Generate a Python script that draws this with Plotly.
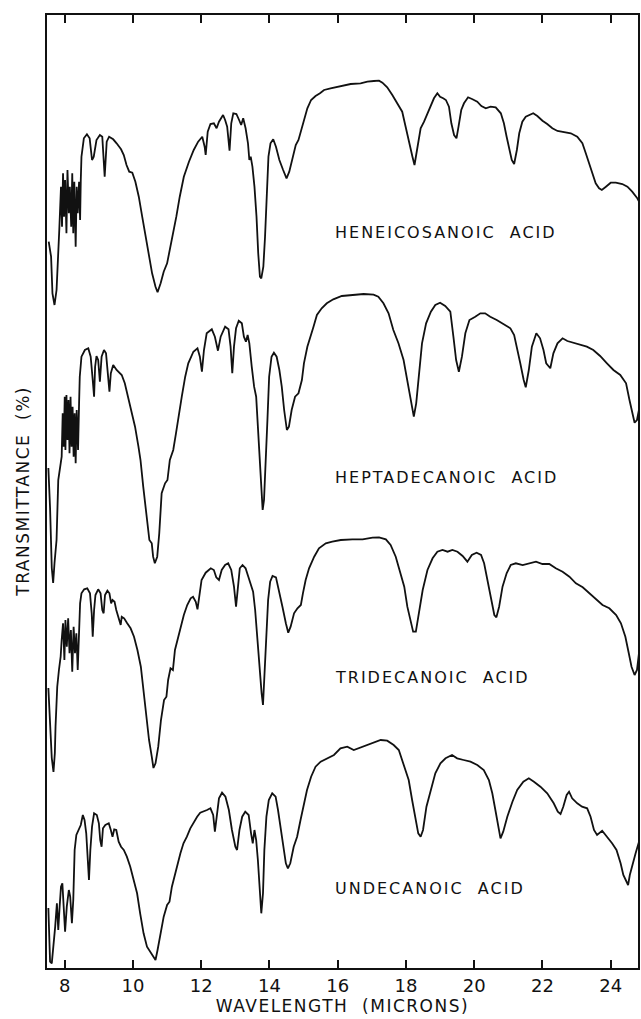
import plotly.graph_objects as go

# ---- data (wavelength in microns, transmittance in stacked chart units) ----
names = ["HENEICOSANOIC  ACID", "HEPTADECANOIC  ACID", "TRIDECANOIC  ACID", "UNDECANOIC  ACID"]
label_y = [73.6, 49.1, 29.1, 8.0]
label_x = 15.86
xticks = [8, 10, 12, 14, 16, 18, 20, 22, 24]

w1 = [7.53, 7.60, 7.64, 7.70, 7.76, 7.80, 7.84, 7.89, 7.92, 7.95, 7.98, 8.01, 8.05, 8.08, 8.12, 8.15, 8.19, 8.22,
      8.25, 8.28, 8.32, 8.35, 8.38, 8.42, 8.45, 8.47, 8.49, 8.56, 8.65, 8.73, 8.80, 8.85, 8.93, 9.03, 9.10, 9.17,
      9.23, 9.30, 9.42, 9.52, 9.59, 9.65, 9.73, 9.81, 9.89, 9.98, 10.07, 10.17, 10.27, 10.37, 10.46, 10.56, 10.66,
      10.72, 10.81, 10.90, 11.00, 11.08, 11.18, 11.27, 11.37, 11.49, 11.64, 11.78, 11.91, 12.03, 12.10, 12.13,
      12.19, 12.27, 12.37, 12.45, 12.52, 12.64, 12.70, 12.76, 12.83, 12.88, 12.94, 13.03, 13.11, 13.17, 13.23,
      13.30, 13.37, 13.41, 13.45, 13.50, 13.56, 13.62, 13.67, 13.72, 13.76, 13.82, 13.87, 13.92, 13.97, 14.03,
      14.11, 14.19, 14.29, 14.40, 14.50, 14.58, 14.68, 14.77, 14.85, 14.93, 15.01, 15.11, 15.22, 15.35, 15.48,
      15.60, 15.79, 16.08, 16.38, 16.67, 16.87, 17.06, 17.21, 17.31, 17.45, 17.60, 17.75, 17.89, 17.99, 18.09,
      18.19, 18.25, 18.33, 18.43, 18.53, 18.67, 18.82, 18.92, 19.00, 19.09, 19.17, 19.26, 19.33, 19.41, 19.48,
      19.54, 19.62, 19.70, 19.82, 19.95, 20.09, 20.21, 20.34, 20.48, 20.63, 20.78, 20.87, 20.95, 21.03, 21.10,
      21.17, 21.25, 21.32, 21.41, 21.51, 21.61, 21.73, 21.85, 22.00, 22.14, 22.29, 22.44, 22.63, 22.83, 23.02,
      23.17, 23.27, 23.37, 23.46, 23.56, 23.66, 23.74, 23.86, 24.00, 24.15, 24.34, 24.49, 24.63, 24.78, 24.88]
t1 = [72.63, 71.13, 67.47, 66.3, 67.8, 71.8, 73.8, 78.13, 74.13, 79.47, 75.13, 78.8, 73.47, 79.8, 75.47, 78.13,
      74.13, 79.47, 73.47, 78.63, 72.13, 78.13, 75.47, 78.63, 74.8, 78.8, 81.13, 82.97, 83.37, 82.97, 80.8, 81.13,
      82.8, 83.3, 83.13, 79.13, 82.63, 83.13, 82.87, 82.47, 82.13, 81.87, 81.3, 80.3, 79.63, 79.53, 78.63, 77.13,
      75.13, 73.13, 71.47, 69.47, 68.13, 67.57, 68.47, 69.63, 70.47, 71.8, 73.47, 75.13, 77.13, 79.13, 80.63,
      81.8, 82.63, 83.13, 82.13, 81.3, 83.63, 84.4, 84.47, 83.97, 84.63, 85.3, 84.8, 84.13, 81.73, 84.47, 85.47,
      85.4, 84.8, 84.3, 84.97, 83.97, 82.47, 80.8, 81.13, 80.13, 78.13, 75.13, 71.47, 69.13, 68.97, 70.13, 73.13,
      77.47, 81.13, 82.47, 82.87, 82.13, 80.8, 79.8, 78.97, 79.63, 81.13, 82.3, 82.8, 83.8, 84.97, 85.97, 86.8,
      87.2, 87.47, 87.8, 87.97, 88.2, 88.4, 88.47, 88.63, 88.7, 88.73, 88.53, 88.07, 87.3, 86.47, 85.63, 84.13,
      82.47, 81.13, 80.3, 81.8, 83.97, 84.63, 85.8, 86.97, 87.47, 87.13, 86.97, 86.8, 86.13, 84.47, 83.3, 82.97,
      84.13, 85.8, 86.47, 87.07, 86.87, 86.63, 86.2, 85.97, 86.13, 86.07, 85.47, 84.47, 83.13, 81.8, 80.8, 80.4,
      81.8, 83.47, 84.63, 85.13, 85.3, 85.47, 85.2, 84.73, 84.4, 83.97, 83.7, 83.6, 83.47, 83.13, 82.47, 81.47,
      80.47, 79.47, 78.47, 77.97, 77.8, 78.13, 78.53, 78.53, 78.4, 78.13, 77.63, 76.97, 76.3]

w2 = [7.52, 7.57, 7.62, 7.66, 7.70, 7.76, 7.81, 7.86, 7.91, 7.94, 7.97, 8.00, 8.02, 8.05, 8.08, 8.11, 8.14, 8.17,
      8.20, 8.23, 8.26, 8.29, 8.32, 8.35, 8.39, 8.42, 8.44, 8.49, 8.59, 8.69, 8.76, 8.82, 8.86, 8.89, 8.93, 8.98,
      9.03, 9.08, 9.15, 9.21, 9.26, 9.31, 9.35, 9.42, 9.52, 9.67, 9.76, 9.86, 9.96, 10.06, 10.16, 10.22, 10.30,
      10.40, 10.48, 10.55, 10.59, 10.64, 10.71, 10.77, 10.84, 10.94, 11.01, 11.08, 11.18, 11.26, 11.33, 11.43,
      11.53, 11.62, 11.77, 11.89, 11.96, 12.02, 12.08, 12.16, 12.31, 12.40, 12.49, 12.57, 12.70, 12.80, 12.86,
      12.91, 12.96, 13.02, 13.10, 13.19, 13.25, 13.31, 13.36, 13.41, 13.48, 13.55, 13.61, 13.65, 13.70, 13.75,
      13.80, 13.84, 13.89, 13.94, 13.99, 14.06, 14.13, 14.21, 14.29, 14.36, 14.43, 14.51, 14.57, 14.65, 14.75,
      14.85, 14.95, 15.01, 15.11, 15.19, 15.29, 15.39, 15.53, 15.68, 15.87, 16.12, 16.46, 16.76, 17.05, 17.19,
      17.34, 17.49, 17.63, 17.78, 17.93, 18.05, 18.17, 18.23, 18.30, 18.38, 18.47, 18.59, 18.73, 18.86, 19.00,
      19.15, 19.30, 19.39, 19.47, 19.55, 19.64, 19.74, 19.86, 20.03, 20.18, 20.32, 20.47, 20.66, 20.86, 21.06,
      21.17, 21.25, 21.35, 21.45, 21.51, 21.60, 21.69, 21.82, 21.93, 22.03, 22.11, 22.23, 22.32, 22.44, 22.59,
      22.73, 22.91, 23.10, 23.30, 23.49, 23.69, 23.89, 24.08, 24.28, 24.45, 24.55, 24.65, 24.70, 24.77, 24.85,
      24.92]
t2 = [50.0, 46.0, 40.0, 38.5, 40.5, 42.8, 48.8, 50.13, 51.13, 55.47, 52.13, 57.13, 51.8, 57.3, 52.8, 56.8, 51.47,
      57.13, 52.13, 56.13, 51.13, 55.47, 50.47, 55.8, 51.8, 56.47, 59.13, 61.13, 61.8, 61.97, 61.13, 58.8, 57.13,
      60.13, 61.2, 60.8, 58.63, 61.13, 61.8, 61.47, 59.13, 57.63, 59.47, 60.3, 59.8, 59.3, 58.47, 56.97, 55.8,
      54.13, 52.13, 50.8, 48.13, 44.8, 42.8, 42.47, 41.13, 40.47, 41.13, 43.47, 47.47, 48.47, 48.8, 50.8, 51.8,
      53.47, 55.13, 57.13, 59.13, 60.47, 61.63, 61.97, 61.13, 59.63, 61.8, 63.47, 63.87, 63.13, 61.73, 63.13,
      64.13, 63.87, 62.13, 59.47, 62.13, 63.97, 64.73, 64.47, 63.13, 62.63, 63.3, 62.47, 60.13, 58.13, 57.13,
      54.8, 51.47, 48.47, 45.8, 46.8, 50.13, 54.8, 59.13, 61.13, 61.53, 61.13, 59.8, 58.13, 55.8, 53.8, 54.13,
      55.8, 57.13, 57.47, 58.8, 60.47, 62.13, 63.13, 64.13, 65.3, 65.97, 66.47, 66.87, 67.2, 67.3, 67.4, 67.33,
      67.13, 66.47, 65.47, 63.8, 62.47, 60.8, 58.47, 56.13, 55.13, 56.47, 59.47, 62.47, 64.47, 65.63, 66.3,
      66.53, 66.2, 65.63, 63.13, 60.8, 59.63, 61.13, 63.47, 64.8, 65.13, 65.47, 65.47, 65.13, 64.8, 64.4, 63.97,
      63.3, 62.13, 60.47, 58.8, 58.07, 59.8, 62.13, 63.47, 62.97, 61.8, 60.47, 59.97, 61.47, 62.47, 62.97, 62.7,
      62.53, 62.37, 62.13, 61.8, 61.2, 60.47, 59.8, 59.3, 58.47, 56.8, 55.13, 54.53, 54.8, 56.13, 57.47]

w3 = [7.52, 7.57, 7.62, 7.67, 7.71, 7.73, 7.78, 7.83, 7.88, 7.91, 7.95, 7.99, 8.02, 8.06, 8.10, 8.14, 8.18, 8.22,
      8.26, 8.30, 8.34, 8.38, 8.42, 8.45, 8.49, 8.57, 8.66, 8.74, 8.79, 8.82, 8.86, 8.90, 8.98, 9.05, 9.10, 9.14,
      9.18, 9.25, 9.31, 9.36, 9.40, 9.46, 9.51, 9.57, 9.64, 9.67, 9.74, 9.83, 9.93, 10.03, 10.13, 10.23, 10.32,
      10.39, 10.47, 10.55, 10.60, 10.66, 10.74, 10.82, 10.91, 10.98, 11.03, 11.10, 11.17, 11.23, 11.30, 11.40,
      11.49, 11.59, 11.69, 11.76, 11.84, 11.89, 11.94, 12.01, 12.13, 12.28, 12.37, 12.44, 12.52, 12.60, 12.70,
      12.79, 12.88, 12.96, 13.02, 13.07, 13.13, 13.21, 13.30, 13.38, 13.45, 13.52, 13.58, 13.63, 13.67, 13.72,
      13.77, 13.81, 13.86, 13.91, 13.96, 14.02, 14.09, 14.19, 14.28, 14.38, 14.48, 14.55, 14.62, 14.72, 14.82,
      14.92, 14.98, 15.06, 15.16, 15.31, 15.45, 15.65, 15.84, 16.09, 16.43, 16.73, 17.02, 17.21, 17.41, 17.55,
      17.70, 17.85, 17.95, 18.04, 18.14, 18.21, 18.29, 18.37, 18.49, 18.63, 18.78, 18.92, 19.07, 19.22, 19.36,
      19.51, 19.66, 19.80, 19.93, 20.07, 20.20, 20.29, 20.39, 20.49, 20.59, 20.65, 20.73, 20.83, 20.95, 21.07,
      21.22, 21.42, 21.61, 21.81, 22.00, 22.20, 22.39, 22.59, 22.79, 22.98, 23.18, 23.37, 23.57, 23.76, 23.96,
      24.16, 24.30, 24.43, 24.53, 24.61, 24.70, 24.77, 24.84, 24.92]
t3 = [28.0, 25.0, 21.0, 19.6, 21.5, 24.13, 28.13, 29.8, 31.13, 32.8, 34.47, 30.8, 34.8, 32.13, 34.97, 31.47, 33.8,
      29.63, 34.13, 31.47, 33.47, 29.8, 34.13, 36.47, 37.47, 37.87, 37.97, 37.47, 35.47, 33.13, 35.8, 37.3, 37.87,
      37.47, 35.8, 35.47, 37.3, 37.73, 37.47, 36.47, 36.8, 36.63, 35.8, 35.13, 34.3, 35.13, 34.97, 34.47, 33.97,
      33.13, 31.8, 30.13, 27.13, 24.8, 22.8, 21.13, 20.0, 20.47, 22.13, 24.8, 26.8, 27.13, 28.8, 29.97, 29.8,
      31.8, 32.8, 34.13, 35.3, 36.3, 36.97, 37.13, 36.63, 35.87, 37.13, 38.8, 39.53, 39.97, 39.8, 39.07, 38.8,
      39.8, 40.3, 40.47, 39.8, 38.13, 36.13, 38.13, 39.97, 40.3, 39.97, 39.13, 38.47, 37.63, 35.8, 33.47, 31.47,
      30.13, 27.47, 26.3, 29.47, 33.47, 36.8, 38.63, 39.2, 39.07, 37.8, 36.13, 34.47, 33.53, 34.13, 35.47, 35.97,
      36.3, 37.47, 38.8, 39.97, 41.13, 41.97, 42.47, 42.63, 42.8, 42.87, 42.87, 43.03, 43.07, 42.87, 42.3, 41.13,
      39.47, 38.13, 36.13, 34.47, 33.63, 33.63, 35.47, 37.8, 39.8, 40.97, 41.63, 41.8, 41.63, 41.8, 41.63, 41.2,
      40.63, 41.3, 41.53, 41.3, 40.47, 38.8, 36.8, 35.3, 35.07, 36.13, 38.13, 39.47, 40.3, 40.47, 40.3, 40.47,
      40.63, 40.4, 40.4, 39.97, 39.63, 39.13, 38.47, 38.07, 37.47, 36.8, 36.3, 35.97, 35.3, 34.47, 33.13, 31.47,
      30.13, 29.3, 29.8, 31.8, 32.8]

w4 = [7.52, 7.55, 7.57, 7.62, 7.67, 7.72, 7.77, 7.81, 7.85, 7.89, 7.93, 7.97, 8.01, 8.06, 8.12, 8.16, 8.21, 8.25,
      8.29, 8.34, 8.41, 8.47, 8.53, 8.58, 8.63, 8.67, 8.71, 8.75, 8.80, 8.86, 8.94, 9.00, 9.04, 9.08, 9.12, 9.19,
      9.29, 9.35, 9.40, 9.45, 9.51, 9.58, 9.65, 9.73, 9.82, 9.92, 10.02, 10.12, 10.21, 10.31, 10.41, 10.51, 10.61,
      10.66, 10.72, 10.80, 10.90, 11.00, 11.07, 11.14, 11.21, 11.29, 11.39, 11.48, 11.58, 11.68, 11.78, 11.88,
      11.97, 12.07, 12.17, 12.27, 12.35, 12.40, 12.45, 12.52, 12.61, 12.71, 12.81, 12.90, 13.00, 13.05, 13.12,
      13.20, 13.29, 13.39, 13.46, 13.51, 13.56, 13.61, 13.66, 13.71, 13.76, 13.81, 13.85, 13.91, 13.98, 14.08,
      14.18, 14.25, 14.32, 14.40, 14.48, 14.54, 14.61, 14.71, 14.81, 14.91, 15.01, 15.10, 15.22, 15.35, 15.50,
      15.69, 15.89, 16.08, 16.28, 16.47, 16.67, 16.86, 17.06, 17.26, 17.45, 17.64, 17.79, 17.94, 18.08, 18.18,
      18.28, 18.36, 18.43, 18.50, 18.60, 18.72, 18.86, 19.01, 19.16, 19.35, 19.50, 19.69, 19.89, 20.09, 20.28,
      20.43, 20.53, 20.62, 20.70, 20.77, 20.85, 20.97, 21.12, 21.26, 21.44, 21.60, 21.75, 21.94, 22.14, 22.33,
      22.45, 22.53, 22.61, 22.71, 22.78, 22.87, 23.02, 23.16, 23.31, 23.41, 23.51, 23.60, 23.75, 23.90, 24.04,
      24.17, 24.29, 24.37, 24.47, 24.51, 24.56, 24.63, 24.73, 24.83, 24.88]
t4 = [6.0, 3.0, 0.63, 0.47, 2.13, 4.13, 6.47, 3.8, 6.13, 8.13, 8.47, 5.47, 3.63, 6.13, 7.8, 7.13, 4.47, 6.8, 11.8,
      13.3, 13.8, 14.3, 15.3, 14.8, 13.47, 11.13, 8.8, 11.8, 14.13, 15.47, 15.3, 14.47, 12.8, 12.13, 13.97, 14.3,
      14.47, 13.8, 13.13, 13.87, 13.8, 12.63, 12.13, 11.8, 11.13, 10.13, 8.8, 7.47, 5.47, 3.47, 2.13, 1.63, 1.13,
      0.8, 1.8, 3.47, 5.13, 6.3, 6.63, 8.13, 9.13, 10.13, 11.47, 12.47, 13.13, 13.97, 14.63, 15.13, 15.53, 15.63,
      15.8, 15.97, 15.3, 13.63, 15.13, 16.97, 17.53, 17.13, 15.8, 13.8, 12.13, 11.8, 13.8, 15.13, 15.63, 15.3,
      13.47, 12.47, 13.8, 12.8, 10.8, 8.13, 5.47, 7.47, 11.8, 15.13, 16.8, 17.47, 17.13, 15.8, 14.13, 12.13,
      10.47, 9.97, 10.47, 12.13, 13.13, 14.8, 16.47, 17.8, 19.13, 20.13, 20.63, 20.97, 21.3, 21.97, 22.13, 21.8,
      22.07, 22.3, 22.53, 22.8, 22.73, 22.3, 21.8, 20.13, 18.8, 16.8, 14.8, 13.47, 13.13, 13.8, 16.13, 17.8,
      19.47, 20.47, 20.97, 21.3, 20.97, 20.8, 20.63, 20.3, 19.8, 18.8, 17.47, 15.8, 14.13, 12.97, 13.63, 15.13,
      16.63, 17.8, 18.63, 18.97, 18.63, 18.13, 17.47, 16.47, 15.63, 15.4, 16.13, 17.3, 17.63, 16.97, 16.47,
      16.13, 15.97, 15.13, 13.8, 13.3, 13.73, 13.13, 12.47, 11.8, 10.47, 9.3, 8.63, 8.3, 9.3, 10.3, 11.47,
      12.63, 12.97]

series = [(w1, t1), (w2, t2), (w3, t3), (w4, t4)]

INK = "#111111"


def spaced(text, px):
    return '<span style="letter-spacing:%spx">%s</span>' % (px, text)


fig = go.Figure()
for (w, t), nm in zip(series, names):
    fig.add_trace(go.Scatter(x=w, y=t, mode="lines", name=nm,
                             line=dict(color=INK, width=1.8), showlegend=False))

for nm, ly in zip(names, label_y):
    fig.add_annotation(x=label_x, y=ly, xref="x", yref="y", text=spaced(nm, 2), showarrow=False,
                       xanchor="left", yanchor="middle",
                       font=dict(family="DejaVu Sans", size=16, color=INK))

fig.add_annotation(x=-0.042, y=0.5, xref="paper", yref="paper", text=spaced("TRANSMITTANCE  (%)", 1.5),
                   showarrow=False, textangle=-90, xanchor="center", yanchor="middle",
                   font=dict(family="DejaVu Sans", size=17, color=INK))

fig.update_layout(
    width=641, height=1019,
    margin=dict(l=47, r=3, t=15, b=51),
    paper_bgcolor="white", plot_bgcolor="white",
    font=dict(family="DejaVu Sans", color=INK),
    xaxis=dict(range=[7.48, 24.80], tickvals=xticks, ticktext=[str(v) for v in xticks],
               ticks="inside", ticklen=8, tickwidth=2, tickcolor=INK,
               showline=True, linewidth=2, linecolor=INK, mirror="ticks",
               showgrid=False, zeroline=False, tickfont=dict(size=18), automargin=False,
               title=dict(text=spaced("WAVELENGTH  (MICRONS)", 1.5), font=dict(size=17), standoff=0)),
    yaxis=dict(range=[0, 95.3], showticklabels=False, ticks="", showline=True, linewidth=2,
               linecolor=INK, mirror=True, showgrid=False, zeroline=False, automargin=False),
)

fig.write_html("out.html", config={"displayModeBar": False},
               post_script="document.body.style.margin='0';document.body.style.overflow='hidden';")
